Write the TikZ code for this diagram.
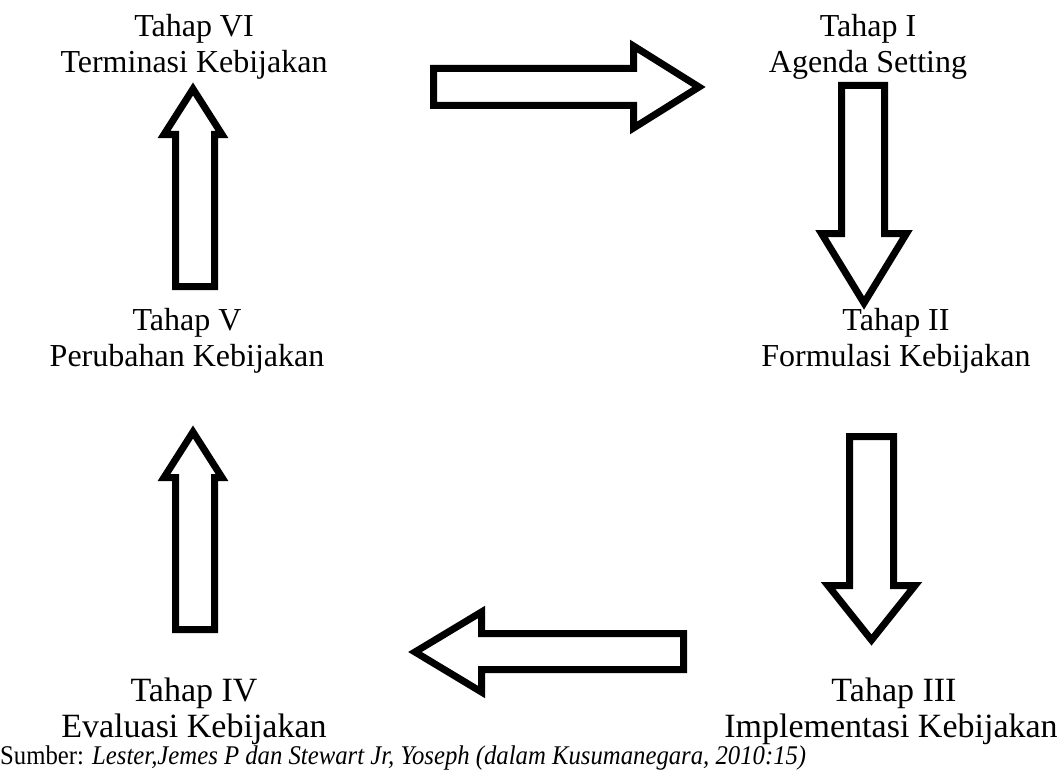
\documentclass[tikz,border=0pt]{standalone}
\usepackage{fontspec}
\setmainfont{Liberation Serif}
\usepackage{graphicx}
\begin{document}
\begin{tikzpicture}[x=1pt,y=-1pt,
  blockarrow/.style={draw=black, line width=7pt, fill=white, line join=miter, miter limit=10},
  stage/.style={align=center, anchor=north, inner sep=0pt, font=\fontsize{32}{36}\selectfont},
  stagebig/.style={stage, font=\fontsize{34}{36}\selectfont}]
\useasboundingbox (0,0) rectangle (1062,773);
% stage labels
\node[stage] (t6) at (194,14) {Tahap VI\\Terminasi Kebijakan};
\node[stage] (t1) at (868,14) {Tahap I\\Agenda Setting};
\node[stage] (t2) at (896,308) {Tahap II\\Formulasi Kebijakan};
\node[stage] (t5) at (187,308) {Tahap V\\Perubahan Kebijakan};
\node[stagebig] (t4) at (194,678) {Tahap IV\hspace{10pt}\\Evaluasi Kebijakan};
\node[stagebig] (t3) at (891,678) {\hspace{6pt}Tahap III\\Implementasi Kebijakan};
% block arrows
\draw[blockarrow] (433.5,68.5) -- (633.5,68.5) -- (633.5,46) -- (699,87) -- (633.5,128) -- (633.5,105.5) -- (433.5,105.5) -- cycle;
\draw[blockarrow] (841.5,85.5) -- (884.5,85.5) -- (884.5,233.5) -- (906.5,233.5) -- (864,303) -- (821.5,233.5) -- (841.5,233.5) -- cycle;
\draw[blockarrow] (849.5,436.5) -- (893.5,436.5) -- (893.5,585.5) -- (915,585.5) -- (871.5,640) -- (828,585.5) -- (849.5,585.5) -- cycle;
\draw[blockarrow] (683.5,633.5) -- (481.5,633.5) -- (481.5,612) -- (415,652) -- (481.5,692) -- (481.5,669.5) -- (683.5,669.5) -- cycle;
\draw[blockarrow] (175.5,286.5) -- (175.5,134.5) -- (164,134.5) -- (193,89) -- (222,134.5) -- (214.5,134.5) -- (214.5,286.5) -- cycle;
\begin{scope}[shift={(0,343)}]
\draw[blockarrow] (175.5,286.5) -- (175.5,134.5) -- (164,134.5) -- (193,89) -- (222,134.5) -- (214.5,134.5) -- (214.5,286.5) -- cycle;
\end{scope}
% source line
\node[anchor=base west, inner sep=0pt, font=\fontsize{27}{30}\selectfont] (src) at (0,764)
  {\resizebox{806pt}{\height}{Sumber: \textit{Lester,Jemes P dan Stewart Jr, Yoseph (dalam Kusumanegara, 2010:15)}}};
\end{tikzpicture}
\end{document}
